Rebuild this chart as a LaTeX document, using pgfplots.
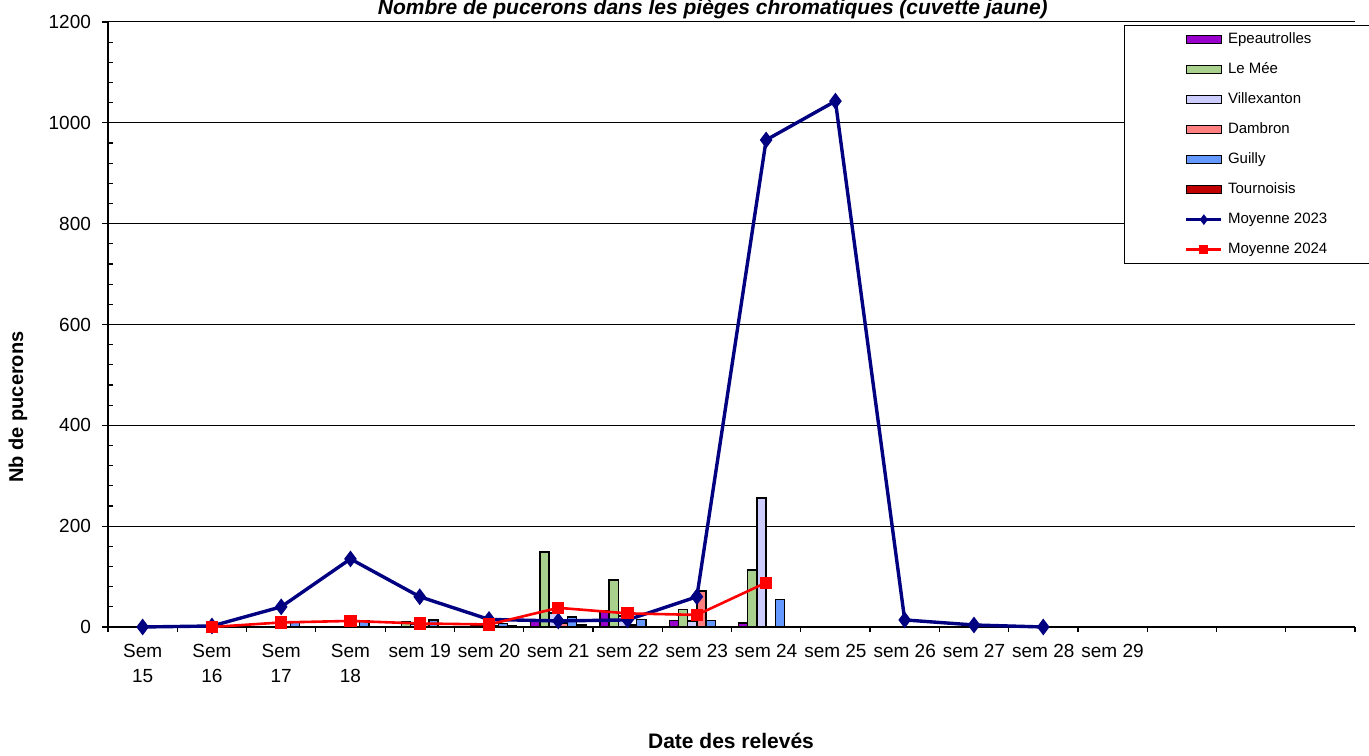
\documentclass[border=0pt]{standalone}
\usepackage{fontspec}
\setmainfont{Liberation Sans}
\usepackage{pgfplots}
\usepackage{pgfplotstable}
\pgfplotsset{compat=1.18}

\definecolor{cEpe}{HTML}{9900CC}
\definecolor{cMee}{HTML}{A9D18E}
\definecolor{cVil}{HTML}{CCCCFF}
\definecolor{cDam}{HTML}{FF8080}
\definecolor{cGui}{HTML}{6699FF}
\definecolor{cTou}{HTML}{C00000}
\definecolor{cA}{HTML}{000080}
\definecolor{cB}{HTML}{FF0000}

% semaines : 0 = Sem 15, 1 = Sem 16, ...
\pgfplotstableread{
x epe mee vil dam gui tou
2 nan nan nan nan 9 nan
3 nan nan nan nan 12 nan
4 nan 10 6 6 14 nan
5 nan 3 2 2 7 3
6 13 149 28 8 20 4
7 32 93 22 4 15 nan
8 13 35 12 71 13 nan
9 8 113 256 nan 55 nan
}\bars

\pgfplotstableread{
x m
0 0
1 2
2 40
3 135
4 60
5 15
6 12
7 14
8 60
9 966
10 1043
11 14
12 4
13 0
}\moyA

\pgfplotstableread{
x m
1 0
2 9
3 12
4 7
5 5
6 38
7 27
8 24
9 88
}\moyB

\pgfplotsset{
  barleg/.style={legend image code/.code={\draw[##1] (0pt,-2pt) rectangle (17.5pt,2pt);}},
  lineleg/.style={legend image code/.code={\draw[mark repeat=2,mark phase=2,##1,mark size=#1]
      plot coordinates {(0pt,0pt) (8.75pt,0pt) (17.5pt,0pt)};}},
  barre/.style={ybar, bar width=4.6pt, bar shift=#1, draw=black, line width=0.7pt, barleg},
}

\begin{document}
\begin{tikzpicture}
\begin{axis}[
  at={(0,0)}, anchor=south west, scale only axis,
  width=623.5pt, height=302.5pt,
  xmin=-0.5, xmax=17.5, ymin=0, ymax=1200,
  clip=false,
  axis x line*=bottom, axis y line*=left,
  axis line style={-, line width=0.8pt, black},
  xtick={0,...,17},
  xticklabels={{Sem\\15},{Sem\\16},{Sem\\17},{Sem\\18},sem 19,sem 20,sem 21,sem 22,sem 23,sem 24,sem 25,sem 26,sem 27,sem 28,sem 29,,,},
  major x tick style={draw=none},
  minor xtick={-0.5,0.5,...,17.5},
  ytick={0,200,...,1200},
  minor y tick num=4,
  tick align=outside,
  major tick length=3pt, minor tick length=2.5pt,
  tick style={black, line width=0.6pt},
  minor y tick style={xshift=2.5pt},
  ymajorgrids, major grid style={black, line width=0.5pt},
  /pgf/number format/assume math mode=true,
  /pgf/number format/1000 sep={},
  xticklabel style={align=center, font=\fontsize{9.5}{12.5}\selectfont, yshift=-2pt},
  yticklabel style={font=\fontsize{9.5}{11}\selectfont, xshift=-2pt},
  title={Nombre de pucerons dans les pièges chromatiques (cuvette jaune)},
  title style={at={(axis description cs:0.485,1.0182)}, anchor=north, yshift=0pt,
    inner sep=0pt, overlay, font=\fontsize{10.5}{12}\selectfont\bfseries\itshape},
  xlabel={Date des relevés},
  xlabel style={at={(axis description cs:0.4996,-0.1884)}, anchor=center,
    font=\fontsize{10.5}{12}\selectfont\bfseries},
  ylabel={Nb de pucerons},
  ylabel style={at={(axis description cs:-0.0722,0.3636)}, anchor=center,
    font=\fontsize{10}{12}\selectfont\bfseries},
  legend style={at={(axis description cs:0.8148,0.995)}, anchor=north west, overlay,
    draw=black, line width=0.6pt, fill=white,
    font=\fontsize{7.5}{9}\selectfont,
    inner xsep=30pt, inner ysep=3pt, row sep=7pt,
    nodes={inner sep=0.5pt, text height=5.5pt, text depth=1.5pt},
    /tikz/every odd column/.append style={column sep=2pt}},
  legend cell align=left,
]
\addplot[barre=-11.5pt, fill=cEpe] table[x=x, y=epe] {\bars};
\addplot[barre=-6.9pt, fill=cMee] table[x=x, y=mee] {\bars};
\addplot[barre=-2.3pt, fill=cVil] table[x=x, y=vil] {\bars};
\addplot[barre=2.3pt, fill=cDam] table[x=x, y=dam] {\bars};
\addplot[barre=6.9pt, fill=cGui] table[x=x, y=gui] {\bars};
\addplot[barre=11.5pt, fill=cTou] table[x=x, y=tou] {\bars};
\addplot[sharp plot, color=cA, line width=1.7pt, mark=diamond*, mark size=2.8pt,
  mark options={solid}, lineleg=1.3pt] table[x=x, y=m] {\moyA};
\addplot[sharp plot, color=cB, line width=1.3pt, mark=square*, mark size=2.4pt,
  mark options={solid}, lineleg=1.6pt] table[x=x, y=m] {\moyB};
\legend{Epeautrolles, Le Mée, Villexanton, Dambron, Guilly, Tournoisis, Moyenne 2023, Moyenne 2024}
\end{axis}
% cadre de la page : 1369 x 751 px a 0.5 pt/px
\path (-54pt,-62pt) rectangle (630.5pt,313.5pt);
\end{tikzpicture}
\end{document}
